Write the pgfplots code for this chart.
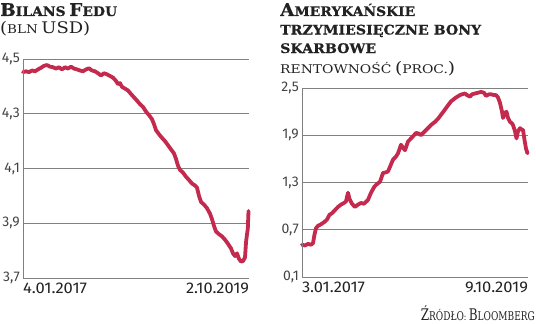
\documentclass[border=0pt]{standalone}
\usepackage{fontspec}
\usepackage{graphicx}
\usepackage{pgfplots}
\pgfplotsset{compat=1.18}
\setmainfont{DejaVu Serif}
\newfontfamily\heavyfont[UprightFont={* Bold}, FakeBold=0.6]{DejaVu Serif}
\newfontfamily\tickfont{Fira Sans}
\newfontfamily\xfont{Fira Sans}
\definecolor{linec}{HTML}{C42A4E}
\definecolor{gridc}{HTML}{808080}
\definecolor{txt}{HTML}{222222}
\newcommand\fitw[2]{\resizebox{#1}{\height}{#2}}
\newcommand\BC[1]{{\fontsize{17.5bp}{17.5bp}\selectfont #1}}
\newcommand\Bs[1]{{\fontsize{13.2bp}{13.2bp}\selectfont #1}}
\newcommand\RC[1]{{\fontsize{16bp}{16bp}\selectfont #1}}
\newcommand\Rs[1]{{\fontsize{12bp}{12bp}\selectfont #1}}
\newcommand\XL[2]{\fitw{#1}{\xfont\fontsize{15.5bp}{15.5bp}\selectfont #2}}
\pgfplotsset{
  myax/.style={
    scale only axis, width=226bp,
    axis line style={draw=none},
    ymajorgrids, grid style={gridc, line width=0.9bp},
    major tick length=0pt,
    clip=false,
    yticklabel style={text=txt!85!white, inner sep=0pt, xshift=-3bp,
      font={\tickfont\fontsize{14bp}{14bp}\selectfont},
      /pgf/number format/.cd, fixed, fixed zerofill, precision=1, use comma, assume math mode=true},
    xticklabel style={text=txt, inner sep=0pt, yshift=-5bp, anchor=north},
    after end axis/.code={\draw[gridc, line width=0.9bp] (rel axis cs:0,0) -- (rel axis cs:0,1);},
  }
}
\pgfplotstableread{
x y
23 4.452
26 4.455
29 4.452
32 4.458
35 4.455
38 4.462
41 4.468
44 4.475
47 4.478
50 4.472
53 4.470
56 4.465
59 4.470
62 4.462
65 4.470
68 4.465
71 4.472
74 4.465
77 4.462
80 4.458
83 4.455
86 4.462
89 4.466
92 4.458
95 4.455
98 4.448
101 4.440
104 4.448
107 4.444
110 4.438
113 4.432
116 4.420
118 4.408
120 4.412
122 4.398
125 4.392
128 4.385
131 4.372
134 4.360
137 4.348
140 4.335
143 4.325
146 4.308
149 4.295
152 4.280
154 4.262
156 4.240
159 4.225
162 4.212
165 4.200
168 4.185
171 4.170
174 4.155
176 4.135
178 4.110
180 4.095
183 4.085
186 4.070
189 4.058
192 4.045
195 4.038
197 4.030
199 4.000
201 3.978
204 3.968
207 3.955
210 3.935
212 3.915
214 3.890
216 3.870
219 3.860
222 3.852
225 3.840
228 3.825
231 3.808
233 3.790
235 3.780
237 3.790
239 3.770
241 3.760
243 3.762
245 3.775
246 3.830
247 3.860
247.8 3.880
248.5 3.945
}\fedtable
\pgfplotstableread{
x y
302 0.51
305 0.50
308 0.52
311 0.51
313 0.53
314.5 0.64
316 0.72
318 0.75
321 0.77
324.5 0.80
327 0.83
329.5 0.89
332 0.91
335 0.95
338 0.99
341 1.02
344 1.04
346 1.06
348 1.17
349.5 1.09
352 1.03
355 0.99
358 1.02
361 1.04
364 1.03
368 1.08
371 1.17
374.5 1.25
377 1.28
380 1.31
383 1.42
386 1.43
388 1.44
391 1.53
393 1.59
396 1.63
398 1.67
401 1.78
403 1.74
405 1.71
408 1.82
411 1.86
414 1.90
416 1.93
419 1.92
421 1.90
424 1.94
428 1.99
431 2.03
435 2.07
438 2.11
441 2.16
444 2.21
448 2.28
451 2.33
453 2.35
456 2.38
460 2.41
462 2.42
465 2.43
467 2.41
470 2.39
472 2.42
475 2.43
478 2.44
481 2.45
484 2.44
486 2.40
489 2.42
491 2.42
494 2.41
496 2.41
498 2.38
500 2.31
502 2.20
503 2.12
505 2.18
506.5 2.20
508 2.12
510 2.07
512 2.05
513 2.03
515 1.95
516.5 1.86
518 1.95
520 1.99
522 1.97
523 1.97
524.5 1.84
526 1.73
527.5 1.67
}\bondtable
\begin{document}
\begin{tikzpicture}[x=1bp,y=1bp]
\useasboundingbox (0,0) rectangle (536,323);
% titles left
\node[anchor=base west, inner sep=0pt, text=txt] at (0,307) {\heavyfont\fitw{117bp}{\BC{B}\Bs{ILANS} \BC{F}\Bs{EDU}}};
\node[anchor=base west, inner sep=0pt, text=txt] at (0,290) {\fitw{90bp}{\RC{(}\Rs{BLN} \RC{USD)}}};
% titles right
\node[anchor=base west, inner sep=0pt, text=txt] at (280,307) {\heavyfont\fitw{135bp}{\BC{A}\Bs{MERYKAŃSKIE}}};
\node[anchor=base west, inner sep=0pt, text=txt] at (280,288.5) {\heavyfont\fitw{201bp}{\Bs{TRZYMIESIĘCZNE BONY}}};
\node[anchor=base west, inner sep=0pt, text=txt] at (280,270) {\heavyfont\fitw{96bp}{\Bs{SKARBOWE}}};
\node[anchor=base west, inner sep=0pt, text=txt] at (280,250) {\fitw{175bp}{\Rs{RENTOWNOŚĆ} \RC{(}\Rs{PROC.}\RC{)}}};
\node[anchor=base east, inner sep=0pt, text=txt] at (535,3) {\fitw{114bp}{\RC{Ź}\Rs{RÓDŁO}: \RC{B}\Rs{LOOMBERG}}};
% left chart
\begin{axis}[myax, at={(23bp,45bp)}, anchor=south west, height=219bp,
  xmin=23, xmax=249, ymin=3.7, ymax=4.5, ytick={3.7,3.9,4.1,4.3,4.5},
  xtick={23,249}, xticklabels={\makebox[0pt][l]{\XL{64bp}{4.01.2017}},\makebox[0pt][r]{\XL{63bp}{2.10.2019}}}]
\addplot[linec, line width=3.8bp, line join=round, line cap=round] table[x=x,y=y] {\fedtable};
\end{axis}
% right chart
\begin{axis}[myax, at={(302bp,46bp)}, anchor=south west, height=189bp,
  xmin=302, xmax=528, ymin=0.1, ymax=2.5, ytick={0.1,0.7,1.3,1.9,2.5},
  xtick={302,528}, xticklabels={\makebox[0pt][l]{\XL{63bp}{3.01.2017}},\makebox[0pt][r]{\XL{63bp}{9.10.2019}}}]
\addplot[linec, line width=3.8bp, line join=round, line cap=round] table[x=x,y=y] {\bondtable};
\end{axis}
\end{tikzpicture}
\end{document}
